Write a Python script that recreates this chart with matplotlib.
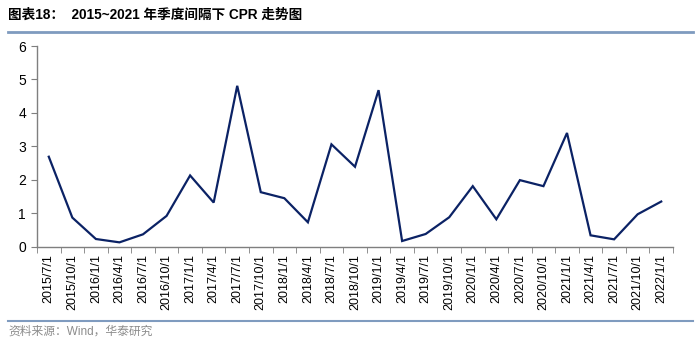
import matplotlib
matplotlib.use("Agg")
import matplotlib.pyplot as plt
from matplotlib.lines import Line2D

plt.rcParams['font.family'] = ['Liberation Sans', 'Noto Sans CJK SC', 'DejaVu Sans']

# --- data ---
dates = ["2015/7/1", "2015/10/1", "2016/1/1", "2016/4/1", "2016/7/1", "2016/10/1",
         "2017/1/1", "2017/4/1", "2017/7/1", "2017/10/1", "2018/1/1", "2018/4/1",
         "2018/7/1", "2018/10/1", "2019/1/1", "2019/4/1", "2019/7/1", "2019/10/1",
         "2020/1/1", "2020/4/1", "2020/7/1", "2020/10/1", "2021/1/1", "2021/4/1",
         "2021/7/1", "2021/10/1", "2022/1/1"]
cpr = [2.69, 0.87, 0.23, 0.13, 0.37, 0.92, 2.13, 1.32, 4.81, 1.63, 1.45, 0.73,
       3.06, 2.39, 4.68, 0.17, 0.38, 0.88, 1.81, 0.82, 1.99, 1.81, 3.40, 0.34,
       0.22, 0.97, 1.35]
yticks = [0, 1, 2, 3, 4, 5, 6]

NAVY = "#0B2265"
AXIS = "#7F7F7F"
RULE = "#7F9BBF"

fig = plt.figure(figsize=(7.0, 3.49), dpi=100)
ax = fig.add_axes([37 / 700, 102.3 / 349, 636 / 700, 200.7 / 349])

x = list(range(len(dates)))
ax.plot(x, cpr, color=NAVY, lw=1.6, solid_joinstyle="miter")

ax.set_xlim(-0.5, len(dates) - 0.5)
ax.set_ylim(0, 6)
ax.set_yticks(yticks)
ax.set_yticklabels([str(v) for v in yticks], fontsize=10)
ax.set_xticks(x)
ax.set_xticklabels(dates, rotation=90, fontsize=9)
ax.set_xticks([i - 0.5 for i in range(len(dates) + 1)], minor=True)
ax.tick_params(axis="x", which="major", length=0, pad=5)
ax.tick_params(axis="x", which="minor", length=4, color=AXIS, direction="out")
ax.tick_params(axis="y", length=4, color=AXIS, direction="out", pad=4)

for s in ("top", "right"):
    ax.spines[s].set_visible(False)
for s in ("left", "bottom"):
    ax.spines[s].set_color(AXIS)
    ax.spines[s].set_linewidth(1.0)

# title and rules
fig.text(8 / 700, 1 - 15 / 349, "图表18：  2015~2021 年季度间隔下 CPR 走势图",
         fontsize=9.8, fontweight="bold", color="black", ha="left", va="center")
fig.add_artist(Line2D([8 / 700, 693 / 700], [1 - 32 / 349, 1 - 32 / 349],
                      color=RULE, lw=2.0, transform=fig.transFigure))
fig.add_artist(Line2D([8 / 700, 693 / 700], [1 - 321 / 349, 1 - 321 / 349],
                      color=RULE, lw=1.5, transform=fig.transFigure))
fig.text(8 / 700, 1 - 332 / 349, "资料来源：Wind，华泰研究",
         fontsize=8.5, color="#8C8C8C", ha="left", va="center")

fig.savefig("out.png", dpi=100, facecolor="white")
